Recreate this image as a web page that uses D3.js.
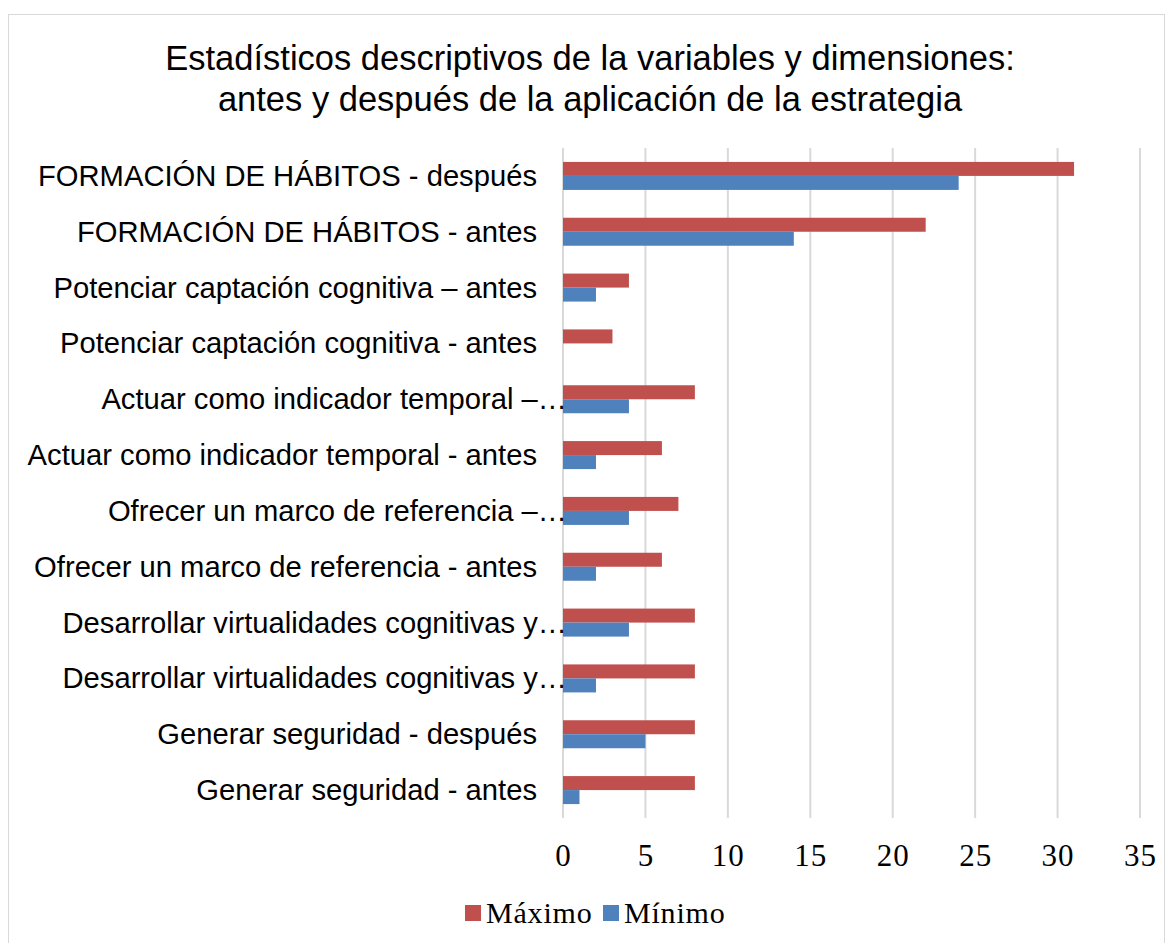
<!DOCTYPE html>
<html>
<head>
<meta charset="utf-8">
<script src="https://cdn.jsdelivr.net/npm/d3@7"></script>
<style>
  body { margin: 0; background: #fff; }
</style>
</head>
<body>
<script>
// categories, top to bottom as drawn
const categories = [
    "FORMACIÓN DE HÁBITOS - después",
    "FORMACIÓN DE HÁBITOS - antes",
    "Potenciar captación cognitiva – antes",
    "Potenciar captación cognitiva - antes",
    "Actuar como indicador temporal –…",
    "Actuar como indicador temporal - antes",
    "Ofrecer un marco de referencia –…",
    "Ofrecer un marco de referencia - antes",
    "Desarrollar virtualidades cognitivas y…",
    "Desarrollar virtualidades cognitivas y…",
    "Generar seguridad - después",
    "Generar seguridad - antes"
];
const maximo = [31, 22, 4, 3, 8, 6, 7, 6, 8, 8, 8, 8];
const minimo = [24, 14, 2, 0, 4, 2, 4, 2, 4, 2, 5, 1];
const ticks = [0, 5, 10, 15, 20, 25, 30, 35];
const seriesNames = ["Máximo", "Mínimo"];
const colors = ["#c0504d", "#4f81bd"];

const W = 1172, H = 943;
const sans = "Liberation Sans, Arial, sans-serif";
const serif = "Liberation Serif, Cambria, serif";

const svg = d3.select("body").append("svg")
    .attr("width", W)
    .attr("height", H);

svg.append("rect")
    .attr("x", 8.5).attr("y", 14.5)
    .attr("width", 1156).attr("height", 940)
    .attr("fill", "#fff")
    .attr("stroke", "#d9d9d9");

const titleLines = ["Estadísticos descriptivos de la variables y dimensiones:",
    "antes y después de la aplicación de la estrategia"];
svg.selectAll(".title")
    .data(titleLines)
    .enter()
    .append("text")
    .attr("class", "title")
    .attr("x", 590)
    .attr("y", (d, i) => 70 + i * 41)
    .attr("text-anchor", "middle")
    .style("font-family", sans)
    .style("font-size", "34.5px")
    .text(d => d);

const x = d3.scaleLinear().domain([0, 35]).range([563, 1140]);
const y = d3.scaleBand().domain(d3.range(categories.length)).range([148, 818]);
const barH = 14;

// gridlines
svg.append("g").selectAll("line")
    .data(ticks)
    .enter()
    .append("line")
    .attr("x1", d => x(d)).attr("x2", d => x(d))
    .attr("y1", 148).attr("y2", 818)
    .attr("stroke", "#d9d9d9")
    .attr("stroke-width", 2);

// bars
const series = [maximo, minimo];
series.forEach((vals, s) => {
    svg.append("g").selectAll("rect")
        .data(vals)
        .enter()
        .append("rect")
        .attr("x", x(0))
        .attr("y", (d, i) => y(i) + y.bandwidth() / 2 - barH + s * barH)
        .attr("width", d => x(d) - x(0))
        .attr("height", barH)
        .attr("fill", colors[s]);
});

// category labels (truncated ones spill past the axis, like the original)
svg.append("g").selectAll("text")
    .data(categories)
    .enter()
    .append("text")
    .attr("x", d => d.endsWith("…") ? 567 : 537)
    .attr("y", (d, i) => y(i) + y.bandwidth() / 2 + 10)
    .attr("text-anchor", "end")
    .style("font-family", sans)
    .style("font-size", "29.2px")
    .attr("fill", "#000")
    .text(d => d);

// x axis labels
const xAxis = d3.axisBottom(x).tickValues(ticks).tickSize(0).tickPadding(0);
const gx = svg.append("g")
    .attr("transform", "translate(0,841)")
    .call(xAxis);
gx.select(".domain").remove();
gx.selectAll("text")
    .attr("dy", "25px")
    .style("font-family", serif)
    .style("font-size", "31px")
    .style("letter-spacing", "1px")
    .attr("fill", "#000");

// legend
const legendX = [465, 603];
seriesNames.forEach((name, s) => {
    svg.append("rect")
        .attr("x", legendX[s]).attr("y", 905)
        .attr("width", 16).attr("height", 16)
        .attr("fill", colors[s]);
    svg.append("text")
        .attr("x", legendX[s] + 21).attr("y", 923)
        .style("font-family", serif)
        .style("font-size", "30px")
        .style("letter-spacing", "0.8px")
        .text(name);
});
</script>
</body>
</html>
